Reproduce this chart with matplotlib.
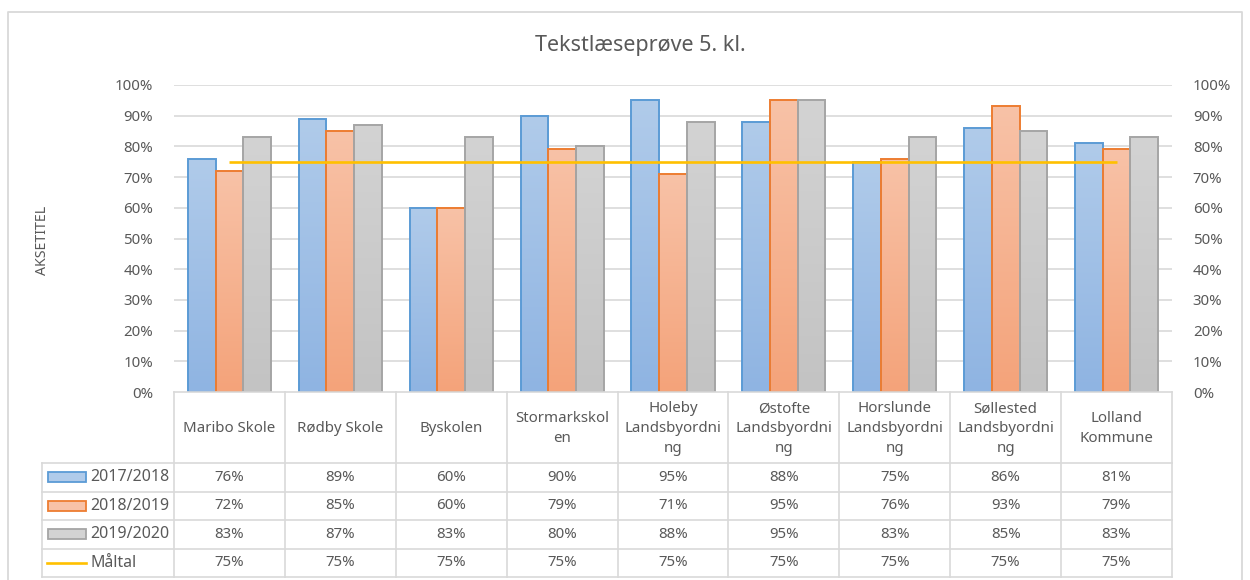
import matplotlib
matplotlib.use("Agg")
import matplotlib.pyplot as plt
import numpy as np
from matplotlib.patches import Rectangle
from matplotlib.colors import LinearSegmentedColormap

plt.rcParams['font.family'] = ['Noto Sans', 'DejaVu Sans']

# ---------------- data ----------------
title = "Tekstlæseprøve 5. kl."
y_label = "AKSETITEL"
categories = ["Maribo Skole", "Rødby Skole", "Byskolen", "Stormarkskolen",
              "Holeby Landsbyordning", "Østofte Landsbyordning",
              "Horslunde Landsbyordning", "Søllested Landsbyordning",
              "Lolland Kommune"]
category_labels = ["Maribo Skole", "Rødby Skole", "Byskolen", "Stormarkskol\nen",
                   "Holeby\nLandsbyordni\nng", "Østofte\nLandsbyordni\nng",
                   "Horslunde\nLandsbyordni\nng", "Søllested\nLandsbyordni\nng",
                   "Lolland\nKommune"]
series_names = ["2017/2018", "2018/2019", "2019/2020"]
s2017 = [76, 89, 60, 90, 95, 88, 75, 86, 81]
s2018 = [72, 85, 60, 79, 71, 95, 76, 93, 79]
s2019 = [83, 87, 83, 80, 88, 95, 83, 85, 83]
target_name = "Måltal"
target = [75, 75, 75, 75, 75, 75, 75, 75, 75]
y_ticks = [0, 10, 20, 30, 40, 50, 60, 70, 80, 90, 100]

# ---------------- styles ----------------
W, H = 1250, 580
fig = plt.figure(figsize=(W / 100, H / 100), dpi=100)
fig.patch.set_facecolor("white")
txt = "#595959"
grid_c = "#d9d9d9"
edge_cols = ["#5b9bd5", "#ed7d31", "#a5a5a5"]
grad_cols = [("#b0cbea", "#8fb4e2"), ("#f8c2a7", "#f4a37a"), ("#d3d3d3", "#c3c3c3")]
target_col = "#ffc000"
fs = 10.8

# pixel geometry
px_l, px_r, px_t, px_b = 174, 1172, 85, 392
ax = fig.add_axes([px_l / W, (H - px_b) / H, (px_r - px_l) / W, (px_b - px_t) / H])
n = len(categories)
x = np.arange(n)
ax.set_xlim(-0.5, n - 0.5)
ax.set_ylim(0, 100)
for s in ax.spines.values():
    s.set_visible(False)
ax.set_yticks(y_ticks)
ax.set_yticklabels([f"{v}%" for v in y_ticks])
ax.tick_params(axis='y', length=0, labelsize=fs, labelcolor=txt, pad=15)
ax.set_xticks([])
for v in y_ticks[1:]:
    ax.axhline(v, color=grid_c, lw=1.2, zorder=0)

bw = 0.25
all_series = [s2017, s2018, s2019]
for i, vals in enumerate(all_series):
    bars = ax.bar(x + (i - 1) * bw, vals, width=bw, facecolor="none",
                  edgecolor=edge_cols[i], linewidth=1.4, zorder=3)
    cmap = LinearSegmentedColormap.from_list("g%d" % i, [grad_cols[i][1], grad_cols[i][0]])
    grad = np.linspace(0, 1, 100).reshape(-1, 1)
    for b in bars:
        x0, w0, h0 = b.get_x(), b.get_width(), b.get_height()
        im = ax.imshow(grad, cmap=cmap, extent=[x0, x0 + w0, 0, h0], origin='lower',
                       aspect='auto', zorder=2)
        im.set_clip_path(b)
ax.set_xlim(-0.5, n - 0.5)
ax.set_ylim(0, 100)
ax.plot(x, target, color=target_col, lw=1.9, zorder=5, solid_capstyle='butt')

ax2 = ax.twinx()
ax2.set_ylim(0, 100)
ax2.set_yticks(y_ticks)
ax2.set_yticklabels([f"{v}%" for v in y_ticks])
ax2.tick_params(axis='y', length=0, labelsize=fs, labelcolor=txt, pad=15)
for s in ax2.spines.values():
    s.set_visible(False)

# ---------------- overlay (pixel coords) ----------------
ov = fig.add_axes([0, 0, 1, 1], zorder=10)
ov.set_xlim(0, W)
ov.set_ylim(H, 0)
ov.axis('off')
ov.patch.set_alpha(0)

# chart border
ov.plot([8, 8, 1242, 1242], [H + 2, 12, 12, H + 2], color=grid_c, lw=1.3)

ov.text(W / 2 + 15, 46, title, ha='center', va='center', fontsize=15.5, color=txt)
ov.text(42, 240, y_label, ha='center', va='center', rotation=90, fontsize=10.2, color=txt)

colw = (px_r - px_l) / n
row_y = [392, 463, 491.5, 520, 548.5, 577]
leg_l = 42
tc = grid_c
for k in range(n + 1):
    ov.plot([px_l + k * colw] * 2, [row_y[0], row_y[-1]], color=tc, lw=1.2)
ov.plot([leg_l, leg_l], [row_y[1], row_y[-1]], color=tc, lw=1.2)
ov.plot([px_l, px_r], [row_y[0]] * 2, color=tc, lw=1.2)
for r in row_y[1:]:
    ov.plot([leg_l, px_r], [r, r], color=tc, lw=1.2)

for k, lab in enumerate(category_labels):
    ov.text(px_l + (k + 0.5) * colw, (row_y[0] + row_y[1]) / 2 + 1, lab, ha='center',
            va='center', fontsize=fs, color=txt, linespacing=1.42)

row_data = [s2017, s2018, s2019, target]
row_names = series_names + [target_name]
for r, (vals, name) in enumerate(zip(row_data, row_names)):
    yc = (row_y[r + 1] + row_y[r + 2]) / 2
    for k, v in enumerate(vals):
        ov.text(px_l + (k + 0.5) * colw, yc, f"{v}%", ha='center', va='center',
                fontsize=fs, color=txt)
    ov.text(90, yc, name, ha='left', va='center', fontsize=11.5, color=txt)
    if r < 3:
        ov.add_patch(Rectangle((47.5, yc - 5), 38.5, 10, facecolor=grad_cols[r][0],
                               edgecolor=edge_cols[r], lw=1.3))
    else:
        ov.plot([47, 86], [yc, yc], color=target_col, lw=1.9)

fig.savefig("out.png", dpi=100, facecolor="white")
